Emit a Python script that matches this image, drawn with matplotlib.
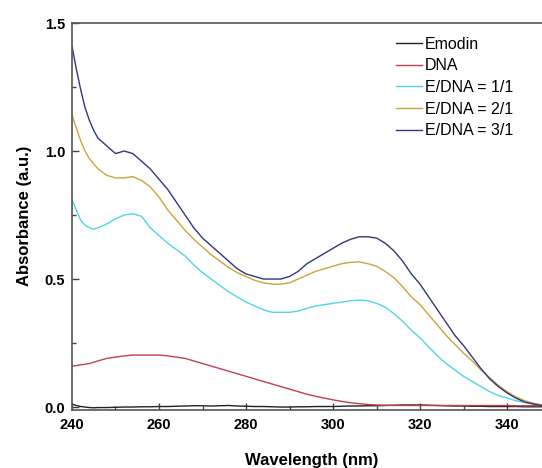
import matplotlib

matplotlib.use("Agg")
import matplotlib.pyplot as plt
from matplotlib.ticker import MultipleLocator

# wavelength grid (nm) shared by all spectra
wavelength = [240, 241, 242, 243, 244, 245, 246] + list(range(248, 351, 2))

emodin = [0.012, 0.006, 0.002, 0.000, -0.002, -0.003, -0.002,
          -0.002, -0.001, 0.000, 0.000, 0.001, 0.001, 0.002, 0.002,
          0.003, 0.004, 0.005, 0.005, 0.004, 0.005, 0.006, 0.004,
          0.003, 0.002, 0.002, 0.001, 0.000, 0.000, 0.001, 0.001,
          0.002, 0.002, 0.002, 0.003, 0.004, 0.004, 0.005, 0.005,
          0.006, 0.007, 0.008, 0.008, 0.008, 0.007, 0.006, 0.005,
          0.004, 0.004, 0.003, 0.003, 0.002, 0.002, 0.002, 0.002,
          0.001, 0.001, 0.001, 0.001]
dna = [0.160, 0.162, 0.165, 0.167, 0.170, 0.175, 0.180,
       0.190, 0.195, 0.200, 0.203, 0.203, 0.203, 0.203, 0.200,
       0.195, 0.190, 0.180, 0.170, 0.160, 0.150, 0.140, 0.130,
       0.120, 0.110, 0.100, 0.090, 0.080, 0.070, 0.060, 0.050,
       0.042, 0.035, 0.028, 0.022, 0.017, 0.013, 0.010, 0.008,
       0.007, 0.006, 0.006, 0.006, 0.006, 0.006, 0.006, 0.006,
       0.006, 0.006, 0.006, 0.006, 0.006, 0.006, 0.006, 0.005,
       0.005, 0.005, 0.005, 0.005]
ratio_1 = [0.81, 0.77, 0.73, 0.71, 0.70, 0.695, 0.70,
           0.715, 0.735, 0.75, 0.755, 0.745, 0.70, 0.67, 0.64,
           0.615, 0.59, 0.555, 0.525, 0.50, 0.475, 0.45, 0.43,
           0.41, 0.395, 0.38, 0.37, 0.37, 0.37, 0.375, 0.385,
           0.395, 0.40, 0.405, 0.41, 0.415, 0.418, 0.415, 0.405,
           0.39, 0.365, 0.335, 0.30, 0.27, 0.235, 0.20, 0.17,
           0.145, 0.12, 0.10, 0.08, 0.06, 0.045, 0.035, 0.025,
           0.018, 0.012, 0.008, 0.005]
ratio_2 = [1.14, 1.09, 1.04, 1.00, 0.97, 0.95, 0.93,
           0.905, 0.895, 0.895, 0.90, 0.885, 0.86, 0.82, 0.77,
           0.73, 0.69, 0.655, 0.625, 0.595, 0.57, 0.545, 0.525,
           0.51, 0.495, 0.485, 0.48, 0.48, 0.485, 0.50, 0.515,
           0.53, 0.54, 0.55, 0.56, 0.565, 0.567, 0.56, 0.55,
           0.53, 0.505, 0.47, 0.43, 0.40, 0.36, 0.32, 0.28,
           0.245, 0.21, 0.18, 0.145, 0.115, 0.085, 0.06, 0.04,
           0.025, 0.015, 0.008, 0.004]
ratio_3 = [1.41, 1.32, 1.24, 1.17, 1.12, 1.08, 1.05,
           1.02, 0.99, 1.00, 0.99, 0.96, 0.93, 0.89, 0.85,
           0.80, 0.75, 0.70, 0.66, 0.63, 0.60, 0.57, 0.54,
           0.52, 0.51, 0.50, 0.50, 0.50, 0.51, 0.53, 0.56,
           0.58, 0.60, 0.62, 0.64, 0.655, 0.665, 0.665, 0.66,
           0.64, 0.61, 0.57, 0.52, 0.48, 0.43, 0.38, 0.33,
           0.28, 0.24, 0.195, 0.15, 0.11, 0.08, 0.055, 0.035,
           0.02, 0.012, 0.006, 0.003]

series = [
    ("Emodin", emodin, "#222222"),
    ("DNA", dna, "#c0404f"),
    ("E/DNA = 1/1", ratio_1, "#4ed6e6"),
    ("E/DNA = 2/1", ratio_2, "#c9a53a"),
    ("E/DNA = 3/1", ratio_3, "#35347e"),
]

plt.rcParams["font.family"] = ["Liberation Sans", "DejaVu Sans"]

fig = plt.figure(figsize=(5.42, 4.68), dpi=100)
ax = fig.add_axes([0.1328, 0.1248, 0.883, 0.826])

for label, values, color in series:
    ax.plot(wavelength, values, color=color, lw=1.0, label=label)

ax.set_xlim(240, 350)
ax.set_ylim(-0.01, 1.5)
ax.xaxis.set_major_locator(MultipleLocator(20))
ax.xaxis.set_minor_locator(MultipleLocator(10))
ax.yaxis.set_major_locator(MultipleLocator(0.5))
ax.yaxis.set_minor_locator(MultipleLocator(0.25))
ax.tick_params(which="both", direction="in", color="#444444", width=1.0)
ax.tick_params(which="major", length=5, labelsize=10.5)
ax.tick_params(which="minor", length=3)
ax.tick_params(axis="x", which="major", pad=6)
ax.tick_params(axis="y", which="major", pad=5)
for lab in ax.get_xticklabels() + ax.get_yticklabels():
    lab.set_fontweight("bold")
for sp in ax.spines.values():
    sp.set_color("#555555")
    sp.set_linewidth(1.2)

ax.set_xlabel("Wavelength (nm)", fontsize=12, fontweight="bold", labelpad=15)
ax.set_ylabel("Absorbance (a.u.)", fontsize=12, fontweight="bold", labelpad=9)

ax.legend(loc="upper left", bbox_to_anchor=(0.677, 0.965), frameon=False,
          fontsize=11.5, handlelength=1.6, handletextpad=0.2,
          labelspacing=0.42, borderaxespad=0, borderpad=0)

fig.savefig("out.png", dpi=100)
